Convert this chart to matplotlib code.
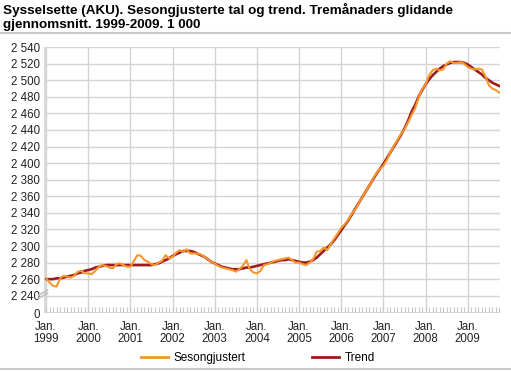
import numpy as np
import matplotlib
matplotlib.use("Agg")
import matplotlib.pyplot as plt
from matplotlib.lines import Line2D

plt.rcParams["font.family"] = ["Liberation Sans", "DejaVu Sans"]

# Monthly values, Jan 1999 - Oct 2009 (1 000 persons)
sesongjustert = [
    2261, 2256, 2252, 2251, 2261, 2264, 2263, 2262, 2264, 2269, 2270, 2267,
    2267, 2266, 2270, 2275, 2277, 2276, 2274, 2273, 2278, 2279, 2277, 2275,
    2275, 2282, 2289, 2288, 2283, 2281, 2278, 2277, 2280, 2282, 2289, 2285,
    2287, 2292, 2295, 2293, 2296, 2291, 2291, 2291, 2290, 2287, 2284, 2281,
    2279, 2276, 2274, 2273, 2272, 2271, 2269, 2272, 2276, 2283, 2272, 2268,
    2267, 2270, 2277, 2278, 2280, 2282, 2283, 2284, 2285, 2286, 2283, 2280,
    2280, 2278, 2277, 2280, 2284, 2293, 2294, 2298, 2295, 2302, 2309, 2315,
    2322, 2326, 2332, 2339, 2344, 2352, 2359, 2366, 2373, 2381, 2388, 2393,
    2397, 2404, 2413, 2421, 2428, 2435, 2441, 2449, 2458, 2466, 2479, 2489,
    2495, 2506, 2512, 2514, 2512, 2513, 2520, 2523, 2521, 2521, 2522, 2520,
    2516, 2514, 2513, 2514, 2513, 2505, 2494, 2490, 2488, 2485,
]
trend = [
    2260, 2260, 2260, 2261, 2261, 2262, 2263, 2264, 2265, 2267, 2268, 2270,
    2271, 2272, 2274, 2275, 2276, 2277, 2277, 2277, 2277, 2277, 2277, 2277,
    2277, 2277, 2277, 2277, 2277, 2277, 2277, 2278, 2279, 2281, 2283, 2285,
    2288, 2290, 2292, 2294, 2294, 2294, 2293, 2291, 2289, 2287, 2284, 2281,
    2279, 2277, 2275, 2274, 2273, 2272, 2272, 2272, 2273, 2274, 2274, 2275,
    2276, 2277, 2278, 2279, 2280, 2281, 2282, 2283, 2283, 2284, 2283, 2282,
    2281, 2280, 2280, 2281, 2283, 2286, 2290, 2294, 2298, 2302, 2307, 2313,
    2319, 2325, 2331, 2338, 2345, 2352, 2359, 2366, 2373, 2380, 2387, 2393,
    2399, 2406, 2413, 2420, 2427, 2434, 2442, 2451, 2462, 2470, 2480, 2488,
    2495, 2501, 2506, 2510, 2514, 2517, 2519, 2521, 2522, 2522, 2522, 2521,
    2519, 2516, 2513, 2510, 2507, 2503, 2500, 2497, 2495, 2493,
]
years = [str(y) for y in range(1999, 2010)]
y_ticks = list(range(2240, 2541, 20))

ORANGE = "#F7962C"
RED = "#9C1B1F"
GRID = "#d4d4d4"
Y_ZERO = 2219  # position of the broken-axis "0"

x = np.arange(len(sesongjustert))
jan_pos = np.arange(len(years)) * 12

fig = plt.figure(figsize=(5.11, 3.71), dpi=100)
ax = fig.add_axes([0.086, 0.156, 0.892, 0.717])

ax.set_xlim(-0.6, len(x) - 0.9)
ax.set_ylim(Y_ZERO, 2540)

# grid
for v in y_ticks:
    ax.axhline(v, color=GRID, lw=1, zorder=1)
for p in jan_pos:
    ax.axvline(p, color=GRID, lw=1, zorder=1)
ax.axhline(Y_ZERO, color=GRID, lw=1.2, zorder=1)
# monthly ticks
ax.vlines(x, Y_ZERO, Y_ZERO + 7, color="#c8c8c8", lw=0.8, zorder=1)

for s in ax.spines.values():
    s.set_visible(False)
ax.axvline(-0.6, color="#d9d9d9", lw=2.2, zorder=2)

# axis break marks
for dy in (0.0, 0.012):
    ax.plot([-0.012, 0.008], [0.055 + dy, 0.075 + dy], transform=ax.transAxes,
            color="#c0c0c0", lw=1.2, clip_on=False, zorder=3)

ax.plot(x, trend, color=RED, lw=1.9, zorder=4, solid_capstyle="round")
ax.plot(x, sesongjustert, color=ORANGE, lw=1.5, zorder=5, solid_joinstyle="round")

ax.set_yticks([Y_ZERO] + y_ticks)
ax.set_yticklabels(["0"] + [f"{v:,}".replace(",", " ") for v in y_ticks])
ax.set_xticks(jan_pos)
ax.set_xticklabels([f"Jan.\n{y}" for y in years], linespacing=1.05)
ax.tick_params(axis="both", length=0, labelsize=8.3, colors="#222222")
ax.tick_params(axis="y", pad=3)
ax.tick_params(axis="x", pad=5.5)

fig.text(0.006, 0.992, "Sysselsette (AKU). Sesongjusterte tal og trend. Tremånaders glidande\ngjennomsnitt. 1999-2009. 1 000",
         ha="left", va="top", fontsize=9.7, fontweight="bold", linespacing=1.25)
fig.add_artist(Line2D([0, 1], [0.912, 0.912], color="#c8c8c8", lw=1.5))
fig.add_artist(Line2D([0, 1], [0.006, 0.006], color="#c8c8c8", lw=1.5))

handles = [Line2D([], [], color=ORANGE, lw=2), Line2D([], [], color=RED, lw=2)]
fig.legend(handles, ["Sesongjustert", "Trend"], loc="center", bbox_to_anchor=(0.505, 0.034),
           ncol=2, frameon=False, fontsize=8.5, handlelength=2.3, columnspacing=5.6,
           handletextpad=0.5)

fig.savefig("out.png", dpi=100)
